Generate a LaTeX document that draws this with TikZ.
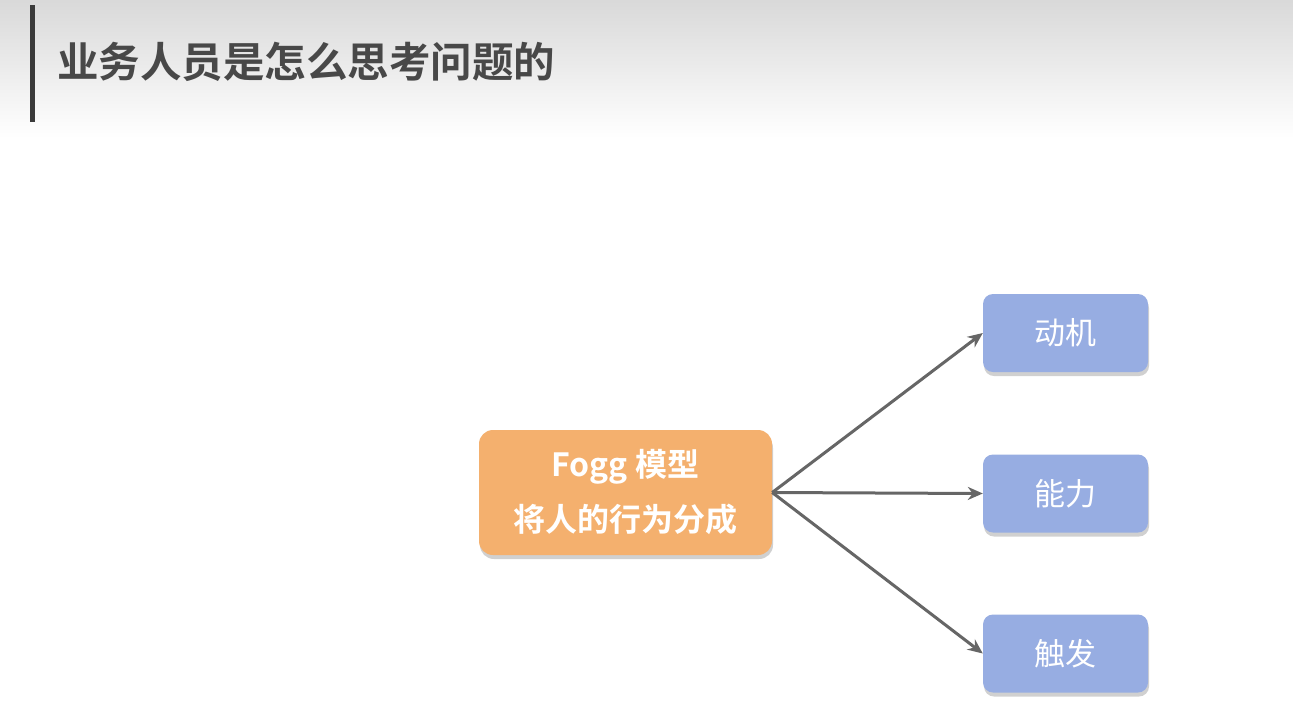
\documentclass[tikz,border=0pt]{standalone}
\usepackage{fontspec}
\setmainfont{Noto Sans CJK SC}[BoldFont={Noto Sans CJK SC Bold}]
\usetikzlibrary{shadows,arrows.meta}
\definecolor{orangebox}{HTML}{F4B06E}
\definecolor{bluebox}{HTML}{97ADE2}
\definecolor{titlegray}{HTML}{484848}
\definecolor{arrowgray}{HTML}{666666}
\definecolor{bargray}{HTML}{3A3A3A}
\begin{document}
\begin{tikzpicture}[x=1pt,y=-1pt,
  mainbox/.style={rounded corners=14pt, fill=orangebox, text=white, font=\bfseries\fontsize{32}{55}\selectfont, align=center,
    minimum width=293pt, minimum height=125pt, inner sep=0pt,
    drop shadow={shadow xshift=1pt, shadow yshift=-4pt, opacity=0.3, fill=black!60}},
  leafbox/.style={rounded corners=10pt, fill=bluebox, text=white, font=\fontsize{31}{36}\selectfont,
    minimum width=165pt, minimum height=78pt, inner sep=0pt,
    drop shadow={shadow xshift=1pt, shadow yshift=-4pt, opacity=0.3, fill=black!60}},
  conn/.style={draw=arrowgray, line width=3pt, -{Stealth[length=15pt,width=13pt]}}]
\useasboundingbox (0,0) rectangle (1293,724);
\fill[white] (0,0) rectangle (1293,724);
\shade[top color=black!15, bottom color=white] (0,0) rectangle (1293,138);
\fill[bargray] (30,5) rectangle (35,122);
\node[anchor=west, text=titlegray, font=\bfseries\fontsize{41.5}{50}\selectfont, inner sep=0pt] (title) at (57,62) {业务人员是怎么思考问题的};
\node[mainbox] (fogg) at (625.5,492.5) {Fogg 模型\\将人的行为分成};
\node[leafbox] (m) at (1065.5,333) {动机};
\node[leafbox] (a) at (1065.5,493.5) {能力};
\node[leafbox] (t) at (1065.5,653.5) {触发};
\coordinate (src) at (fogg.east);
\draw[conn] (src) -- (m.west);
\draw[conn] (src) -- (a.west);
\draw[conn] (src) -- (t.west);
\end{tikzpicture}
\end{document}
